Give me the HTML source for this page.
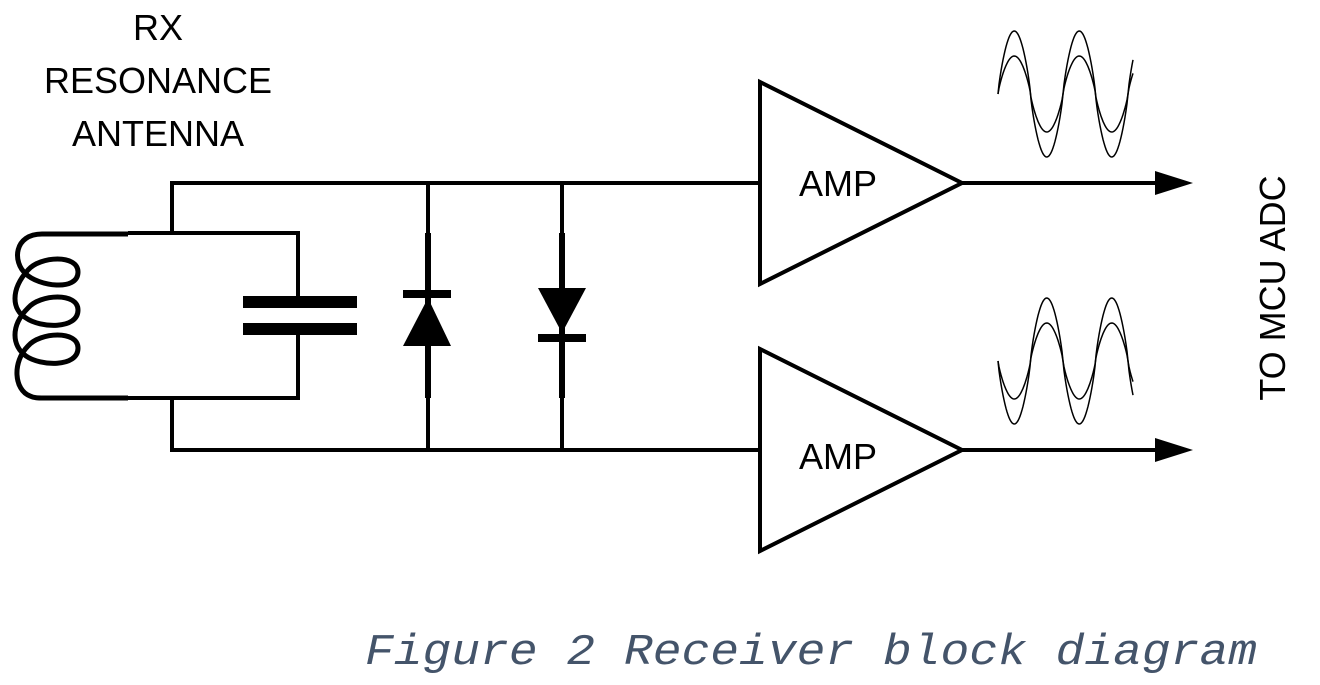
<!DOCTYPE html>
<html><head><style>body{margin:0;background:#fff}svg{display:block}</style></head>
<body>
<svg width="1320" height="685" viewBox="0 0 1320 685" xmlns="http://www.w3.org/2000/svg">
<g font-family="Liberation Sans, sans-serif" font-size="36" text-anchor="middle" fill="#000">
<text x="158" y="40">RX</text>
<text x="158" y="93">RESONANCE</text>
<text x="158" y="146">ANTENNA</text>
<text x="838" y="196">AMP</text>
<text x="838" y="469">AMP</text>
<text transform="translate(1285,288) rotate(-90)">TO MCU ADC</text>
</g>
<g stroke="#000" stroke-width="4" fill="none">
<polyline points="760,183 172,183 172,233"/>
<polyline points="172,398 172,450 760,450"/>
<polyline points="128,233 298,233 298,300"/>
<polyline points="128,398 298,398 298,332"/>
<line x1="428" y1="183" x2="428" y2="450"/>
<line x1="562" y1="183" x2="562" y2="450"/>
<polygon points="760,82 760,284 962,183"/>
<polygon points="760,349 760,551 962,450"/>
<line x1="962" y1="183" x2="1160" y2="183"/>
<line x1="962" y1="450" x2="1160" y2="450"/>
</g>
<g fill="#000">
<polygon points="1155,171 1193,183 1155,195"/>
<polygon points="1155,438 1193,450 1155,462"/>
<rect x="243" y="296" width="114" height="12"/>
<rect x="243" y="323" width="114" height="12"/>
<rect x="425" y="233" width="6" height="165"/>
<rect x="403" y="290" width="48" height="8"/>
<polygon points="428,298 403,346 451,346"/>
<rect x="559" y="233" width="6" height="165"/>
<polygon points="538,288 586,288 562,333"/>
<rect x="538" y="334" width="48" height="8"/>
</g>
<path d="M128,234 L42,234 C14,234 12,262 26,274 C38,286 78,292 78,272 C78,254 40,256 28,270 C10,290 12,310 26,318 C40,328 78,330 78,310 C78,292 40,294 28,308 C10,326 12,346 26,356 C40,366 78,368 78,348 C78,330 40,332 28,346 C12,362 14,390 30,396 C34,398 38,398 44,398 L128,398" stroke="#000" stroke-width="5" fill="none"/>
<script>
(function(){
 var s=document.querySelector('svg');
 function wave(c,A,sign){var d='';for(var x=998;x<=1133;x+=1){var t=2*Math.PI*(x-998)/65;var v=Math.sin(t);v=Math.sign(v)*Math.pow(Math.abs(v),0.8);var y=c-sign*A*v;d+=(x==998?'M':'L')+x+','+y.toFixed(1);}
  var p=document.createElementNS('http://www.w3.org/2000/svg','path');p.setAttribute('d',d);p.setAttribute('stroke','#000');p.setAttribute('stroke-width','1.5');p.setAttribute('fill','none');s.appendChild(p);}
 wave(94,63,1);wave(94,38,1);wave(361,63,-1);wave(361,38,-1);
})();
</script>
<text x="365" y="664" font-family="Liberation Mono, monospace" font-style="italic" font-size="44" fill="#44546a" textLength="892" lengthAdjust="spacingAndGlyphs">Figure 2 Receiver block diagram</text>
</svg>
</body></html>
